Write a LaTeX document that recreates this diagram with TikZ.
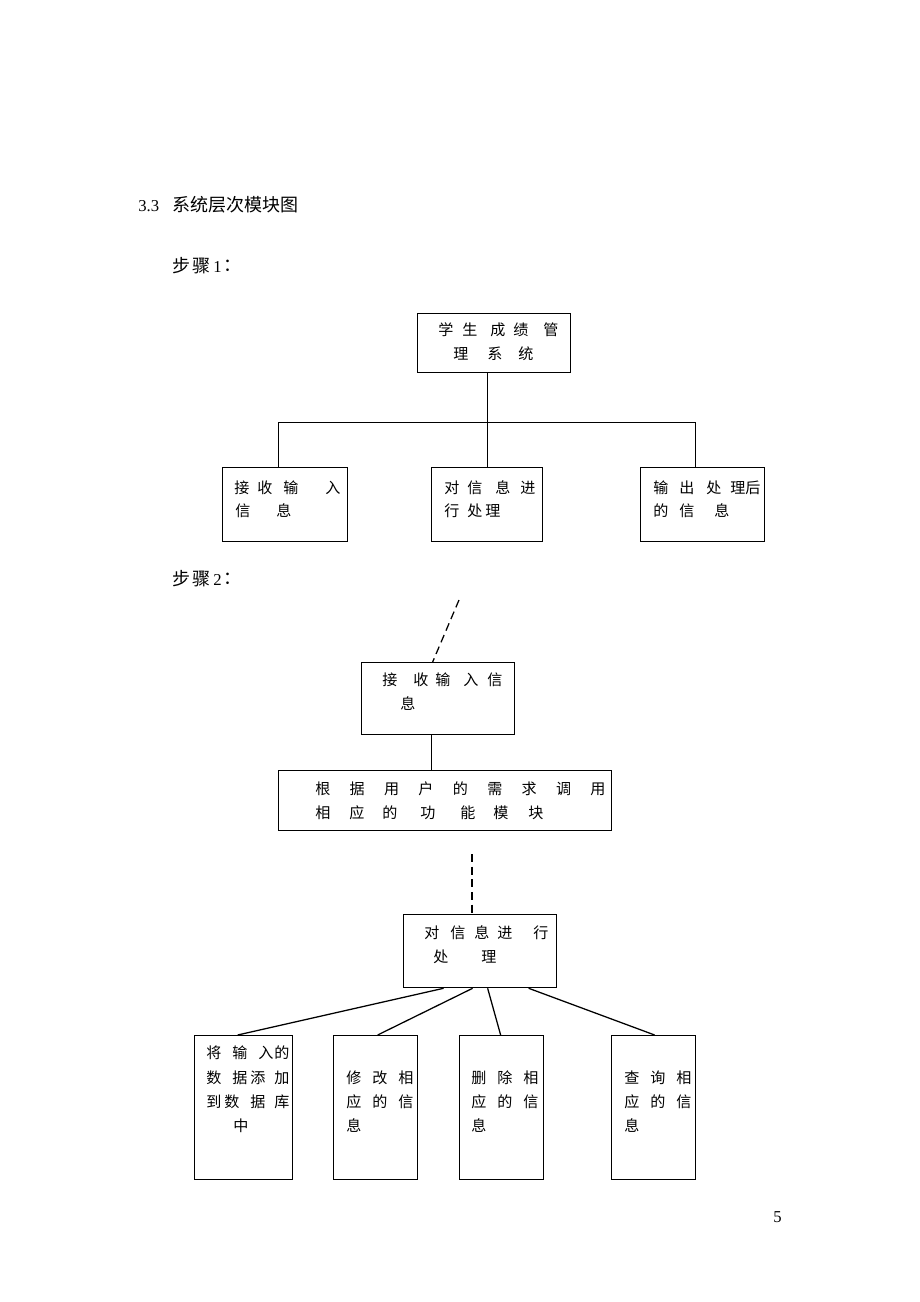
\documentclass[tikz,border=0pt]{standalone}
\usepackage{fontspec}
\setmainfont{Liberation Serif}
\newfontfamily\cjk{Noto Sans CJK SC}
\usetikzlibrary{calc}
\newdimen\pxu \pxu=0.75pt
\newcommand{\cb}[2]{\makebox[#1\pxu][l]{#2}}
\begin{document}
\begin{tikzpicture}[x=0.75pt,y=-0.75pt,
  box/.style={draw,line width=0.95pt,inner sep=0,anchor=north west},
  ln/.style={anchor=west,inner sep=0,font=\cjk\fontsize{11.3}{13}\selectfont},
  conn/.style={line width=0.95pt},
  dsh/.style={line width=0.95pt,dash pattern=on 6pt off 3.5pt},
  head/.style={anchor=west,inner sep=0,font=\cjk\fontsize{13.5}{16}\selectfont},
  lat/.style={anchor=west,inner sep=0,font=\fontsize{12.5}{15}\selectfont}]
\useasboundingbox (0,0) rectangle (920,1302);
% headings
\node[lat] (h33) at (138,206) {3.3};
\node[head] (htitle) at (172,205) {系统层次模块图};
\node[head] (s1a) at (172,266) {\cb{20}{步}骤};
\node[lat] (s1b) at (213,267) {1};
\node[head] (s1c) at (223,266) {：};
\node[head] (s2a) at (172,579) {\cb{20}{步}骤};
\node[lat] (s2b) at (213,580) {2};
\node[head] (s2c) at (223,579) {：};
\node[lat] (pg) at (773,1217) {5};
% step 1 boxes
\node[box,minimum width=153\pxu,minimum height=59\pxu] (top) at (417,313) {};
\node[ln] (top1) at (438,330) {\cb{24}{学}\cb{28}{生}\cb{23}{成}\cb{30}{绩}管};
\node[ln] (top2) at (453,354) {\cb{34}{理}\cb{31}{系}统};
\node[box,minimum width=125\pxu,minimum height=74\pxu] (A) at (222,467) {};
\node[ln] (A1) at (234,488) {\cb{23}{接}\cb{26}{收}\cb{42}{输}入};
\node[ln] (A2) at (235,511) {\cb{41}{信}息};
\node[box,minimum width=111\pxu,minimum height=74\pxu] (B) at (431,467) {};
\node[ln] (B1) at (444,488) {\cb{23}{对}\cb{28}{信}\cb{25}{息}进};
\node[ln] (B2) at (444,511) {\cb{23}{行}\cb{18}{处}理};
\node[box,minimum width=124\pxu,minimum height=74\pxu] (C) at (640,467) {};
\node[ln] (C1) at (653,488) {\cb{26}{输}\cb{27}{出}\cb{24}{处}\cb{15}{理}后};
\node[ln] (C2) at (653,511) {\cb{26}{的}\cb{35}{信}息};
\coordinate (j) at ($(top.south)+(-6.5,49)$);
\draw[conn] ($(top.south)+(-6.5,0)$) -- (j);
\draw[conn] ($(A.north)+(-6.5,0)$) |- (j) -| ($(C.north)+(-7,0)$);
\draw[conn] (j) -- (j |- B.north);
% step 2
\node[box,minimum width=153\pxu,minimum height=72\pxu] (recv) at (361,662) {};
\node[ln] (r1) at (382,680) {\cb{31}{接}\cb{22}{收}\cb{28}{输}\cb{24}{入}信};
\node[ln] (r2) at (400,704) {息};
\coordinate (d1) at (459,600);
\draw[dsh] (d1) -- ($(recv.north)+(-5.5,0)$);
\node[box,minimum width=333\pxu,minimum height=60\pxu] (wide) at (278,770) {};
\node[ln] (w1) at (315,789) {\cb{34.4}{根}\cb{34.4}{据}\cb{34.4}{用}\cb{34.4}{户}\cb{34.4}{的}\cb{34.4}{需}\cb{34.4}{求}\cb{34.4}{调}用};
\node[ln] (w2) at (315,813) {\cb{34}{相}\cb{33}{应}\cb{38}{的}\cb{40}{功}\cb{33}{能}\cb{35}{模}块};
\draw[conn] ($(recv.south)+(-6.5,0)$) -- ($(recv.south)+(-6.5,36)$);
\coordinate (d2) at (472,854);
\node[box,minimum width=153\pxu,minimum height=73\pxu] (proc) at (403,914) {};
\node[ln] (p1) at (424,933) {\cb{26}{对}\cb{24}{信}\cb{23}{息}\cb{36}{进}行};
\node[ln] (p2) at (433,957) {\cb{48}{处}理};
\draw[dsh] (d2) -- (d2 |- proc.north);
\node[box,minimum width=98\pxu,minimum height=144\pxu] (b1) at (194,1035) {};
\node[ln] (b1a) at (206,1053) {\cb{26}{将}\cb{26}{输}\cb{16}{入}的};
\node[ln] (b1b) at (206,1078) {\cb{26}{数}\cb{18}{据}\cb{24}{添}加};
\node[ln] (b1c) at (206,1102) {\cb{18}{到}\cb{26}{数}\cb{24}{据}库};
\node[ln] (b1d) at (233,1126) {中};
\node[box,minimum width=84\pxu,minimum height=144\pxu] (b2) at (333,1035) {};
\node[ln] (b2a) at (346,1078) {\cb{26}{修}\cb{26}{改}相};
\node[ln] (b2b) at (346,1102) {\cb{26}{应}\cb{26}{的}信};
\node[ln] (b2c) at (346,1126) {息};
\node[box,minimum width=84\pxu,minimum height=144\pxu] (b3) at (459,1035) {};
\node[ln] (b3a) at (471,1078) {\cb{26}{删}\cb{26}{除}相};
\node[ln] (b3b) at (471,1102) {\cb{26}{应}\cb{26}{的}信};
\node[ln] (b3c) at (471,1126) {息};
\node[box,minimum width=84\pxu,minimum height=144\pxu] (b4) at (611,1035) {};
\node[ln] (b4a) at (624,1078) {\cb{26}{查}\cb{26}{询}相};
\node[ln] (b4b) at (624,1102) {\cb{26}{应}\cb{26}{的}信};
\node[ln] (b4c) at (624,1126) {息};
\draw[conn] ($(proc.south)+(-36.5,0)$) -- ($(b1.north)+(-6,0)$);
\draw[conn] ($(proc.south)+(-7.5,0)$) -- ($(b2.north)+(2,0)$);
\draw[conn] ($(proc.south)+(7.5,0)$) -- ($(b3.north)+(-1,0)$);
\draw[conn] ($(proc.south)+(48.5,0)$) -- ($(b4.north)+(1,0)$);
\end{tikzpicture}
\end{document}
